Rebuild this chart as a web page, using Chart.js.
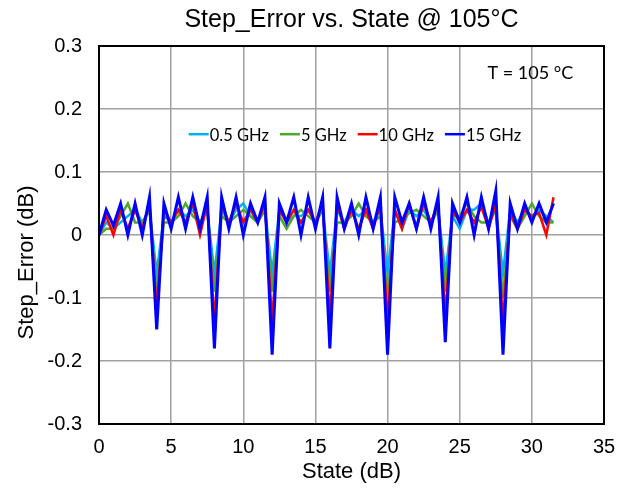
<!DOCTYPE html>
<html>
<head>
<meta charset="utf-8">
<script src="https://cdn.jsdelivr.net/npm/chart.js@4/dist/chart.umd.min.js"></script>
<style>
  body { margin: 0; background: #ffffff; }
</style>
</head>
<body>
<canvas id="StepError" width="632" height="489"></canvas>
<script>
// STATE VALUES (dB) ON THE X AXIS
const states = [
  0, 0.5, 1, 1.5, 2, 2.5, 3, 3.5,
  4, 4.5, 5, 5.5, 6, 6.5, 7, 7.5,
  8, 8.5, 9, 9.5, 10, 10.5, 11, 11.5,
  12, 12.5, 13, 13.5, 14, 14.5, 15, 15.5,
  16, 16.5, 17, 17.5, 18, 18.5, 19, 19.5,
  20, 20.5, 21, 21.5, 22, 22.5, 23, 23.5,
  24, 24.5, 25, 25.5, 26, 26.5, 27, 27.5,
  28, 28.5, 29, 29.5, 30, 30.5, 31, 31.5
];

// STEP ERROR (dB) FOR EACH FREQUENCY
const err05GHz = [
  0, 0.02, 0.01, 0.02, 0.03, 0.04, 0.02, 0.04,
  -0.06, 0.03, 0.02, 0.04, 0.03, 0.04, 0.02, 0.04,
  -0.06, 0.04, 0.02, 0.04, 0.05, 0.03, 0.02, 0.04,
  -0.06, 0.04, 0.02, 0.03, 0.03, 0.04, 0.02, 0.04,
  -0.06, 0.04, 0.02, 0.04, 0.03, 0.04, 0.02, 0.04,
  -0.06, 0.04, 0.01, 0.04, 0.03, 0.04, 0.02, 0.04,
  -0.06, 0.03, 0.01, 0.04, 0.04, 0.05, 0.02, 0.04,
  -0.06, 0.04, 0.02, 0.04, 0.03, 0.04, 0.03, 0.02
];
const err5GHz = [
  0, 0.01, 0.01, 0.03, 0.05, 0.02, 0.02, 0.04,
  -0.09, 0.02, 0.02, 0.03, 0.05, 0.03, 0.02, 0.04,
  -0.09, 0.03, 0.02, 0.03, 0.04, 0.03, 0.02, 0.04,
  -0.09, 0.03, 0.01, 0.03, 0.04, 0.03, 0.02, 0.04,
  -0.09, 0.02, 0.02, 0.03, 0.05, 0.03, 0.02, 0.03,
  -0.1, 0.02, 0.025, 0.035, 0.04, 0.03, 0.02, 0.04,
  -0.09, 0.03, 0.03, 0.05, 0.03, 0.02, 0.02, 0.04,
  -0.1, 0.03, 0.01, 0.03, 0.05, 0.03, 0.02, 0.02
];
const err10GHz = [
  0, 0.03, 0, 0.04, 0.01, 0.04, 0.01, 0.05,
  -0.12, 0.04, 0.02, 0.04, 0.02, 0.05, 0, 0.05,
  -0.14, 0.05, 0.02, 0.05, 0.02, 0.04, 0.02, 0.05,
  -0.14, 0.04, 0.02, 0.04, 0.02, 0.04, 0.02, 0.05,
  -0.13, 0.05, 0.01, 0.04, 0.01, 0.04, 0.01, 0.05,
  -0.14, 0.04, 0.01, 0.05, 0.01, 0.05, 0.02, 0.05,
  -0.13, 0.04, 0.02, 0.04, 0.02, 0.045, 0.01, 0.05,
  -0.14, 0.035, 0.01, 0.04, 0.03, 0.035, 0, 0.06
];
const err15GHz = [
  0, 0.04, 0.015, 0.05, 0, 0.05, 0, 0.06,
  -0.15, 0.05, 0.01, 0.06, 0.01, 0.06, 0.01, 0.06,
  -0.18, 0.06, 0.01, 0.06, 0, 0.05, 0.02, 0.06,
  -0.19, 0.05, 0.02, 0.06, 0, 0.06, 0.01, 0.06,
  -0.18, 0.06, 0.01, 0.05, 0, 0.06, 0.01, 0.06,
  -0.19, 0.06, 0.02, 0.05, 0.01, 0.06, 0.01, 0.06,
  -0.17, 0.05, 0.02, 0.06, 0, 0.06, 0.01, 0.07,
  -0.19, 0.05, 0.01, 0.05, 0.02, 0.05, 0.02, 0.05
];

const seriesLabels = ['0.5 GHz', '5 GHz', '10 GHz', '15 GHz'];
const chartTitle = 'Step_Error vs. State @ 105°C';
const tempNote = 'T = 105 °C';

function toPoints(values) {
  return values.map((v, i) => ({x: states[i], y: v}));
}

//FRAME, TEMPERATURE NOTE AND THE LEGEND INSIDE THE PLOT
const plotExtras = {
  id: 'plotExtras',
  afterDraw(chart) {
    const {ctx, chartArea} = chart;
    const xs = chart.scales.x, ys = chart.scales.y;
    ctx.save();
    ctx.strokeStyle = '#000000';
    ctx.lineWidth = 2;
    ctx.strokeRect(chartArea.left, chartArea.top, chartArea.right - chartArea.left, chartArea.bottom - chartArea.top);

    ctx.fillStyle = '#000000';
    ctx.textBaseline = 'middle';
    ctx.textAlign = 'center';
    ctx.font = '18px Lato';
    ctx.fillText(tempNote, xs.getPixelForValue(29.9), ys.getPixelForValue(0.257));

    ctx.font = '16.5px Lato';
    ctx.textAlign = 'left';
    const sets = chart.data.datasets;
    const lineLen = 20, gap = 11;
    let total = 0;
    sets.forEach((ds, i) => {
      total += lineLen + 1 + ctx.measureText(ds.label).width;
      if (i < sets.length - 1) total += gap;
    });
    let x = xs.getPixelForValue(17.74) - total / 2;
    const y = ys.getPixelForValue(0.16);
    sets.forEach(ds => {
      ctx.strokeStyle = ds.borderColor;
      ctx.lineWidth = 2.5;
      ctx.beginPath();
      ctx.moveTo(x, y);
      ctx.lineTo(x + lineLen, y);
      ctx.stroke();
      x += lineLen + 1;
      ctx.fillText(ds.label, x, y + 1);
      x += ctx.measureText(ds.label).width + gap;
    });
    ctx.restore();
  }
};

let context = document.getElementById('StepError').getContext('2d');
let StepError = new Chart(context, {
  type: 'line',
  data: {
    datasets: [{
      label: seriesLabels[0],
      borderColor: '#00B0F0',
      borderWidth: 2.5,
      data: toPoints(err05GHz),
      order: 4
    },
    {
      label: seriesLabels[1],
      borderColor: '#4EA72E',
      borderWidth: 2.5,
      data: toPoints(err5GHz),
      order: 3
    },
    {
      label: seriesLabels[2],
      borderColor: '#FF0000',
      borderWidth: 2.5,
      data: toPoints(err10GHz),
      order: 2
    },
    {
      label: seriesLabels[3],
      borderColor: '#0000FF',
      borderWidth: 3,
      data: toPoints(err15GHz),
      order: 1
    }]
  },
  options: {
    responsive: false,
    animation: false,
    devicePixelRatio: 1,
    elements: {
      point: { radius: 0 },
      line: { tension: 0 }
    },
    layout: {
      padding: {left: 0, right: 28, top: 0, bottom: 0}
    },
    plugins: {
      legend: { display: false },
      tooltip: { enabled: false },
      title: {
        display: true,
        text: chartTitle,
        color: '#000000',
        fullSize: false,
        font: { family: 'Liberation Sans', size: 25, weight: 'normal', lineHeight: 1.2 },
        padding: {top: 5, bottom: 11}
      }
    },
    scales: {
      x: {
        type: 'linear',
        min: 0,
        max: 35,
        afterFit: s => { s.height = 65; },
        ticks: {
          stepSize: 5,
          color: '#000000',
          padding: 11,
          font: { family: 'Liberation Sans', size: 20 }
        },
        title: {
          display: true,
          text: 'State (dB)',
          color: '#000000',
          font: { family: 'Liberation Sans', size: 22, lineHeight: 1.2 },
          padding: {top: 0, bottom: 4}
        },
        grid: { color: '#a0a0a0', lineWidth: 1.5, drawTicks: false },
        border: { color: '#000000', width: 2 }
      },
      y: {
        min: -0.3,
        max: 0.3,
        afterFit: s => { s.width = 99; },
        ticks: {
          stepSize: 0.1,
          color: '#000000',
          padding: 17,
          font: { family: 'Liberation Sans', size: 20 },
          callback: v => String(Math.round(v * 10) / 10)
        },
        title: {
          display: true,
          text: 'Step_Error (dB)         ',
          color: '#000000',
          font: { family: 'Liberation Sans', size: 22, lineHeight: 1.2 },
          padding: {top: 14, bottom: 0}
        },
        grid: { color: '#a0a0a0', lineWidth: 1.5, drawTicks: false },
        border: { color: '#000000', width: 2 }
      }
    }
  },
  plugins: [plotExtras]
});
</script>
</body>
</html>
